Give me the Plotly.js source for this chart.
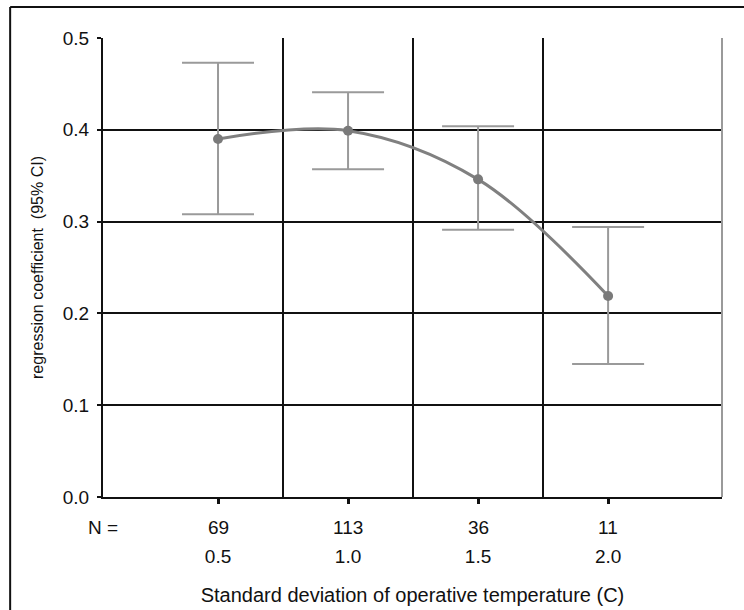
<!DOCTYPE html>
<html>
<head>
<meta charset="utf-8">
<script src="https://cdn.plot.ly/plotly-3.0.1.min.js"></script>
<style>html,body{margin:0;padding:0;background:#fff;}#chart{width:744px;height:610px;}</style>
</head>
<body>
<div id="chart"></div>
<script>
// Data
const sdValues = [0.5, 1.0, 1.5, 2.0];
const sdLabels = ["0.5", "1.0", "1.5", "2.0"];
const nCounts = ["69", "113", "36", "11"];
const coef = [0.390, 0.399, 0.346, 0.219];
const ciUpper = [0.473, 0.441, 0.404, 0.294];
const ciLower = [0.308, 0.357, 0.291, 0.145];
const gridX = [0.75, 1.25, 1.75];

const errPlus = coef.map((v, i) => ciUpper[i] - v);
const errMinus = coef.map((v, i) => v - ciLower[i]);

const FONT = "Liberation Sans, Arial, sans-serif";
const xRange = [0.0577, 2.438];
const TXT = "#111";

const traces = [
  {
    x: sdValues, y: coef, type: "scatter", mode: "lines",
    line: {shape: "spline", smoothing: 1, color: "#808080", width: 3},
    hoverinfo: "skip", showlegend: false
  },
  {
    x: sdValues, y: coef, type: "scatter", mode: "markers",
    marker: {size: 10, color: "#7a7a7a"},
    error_y: {type: "data", symmetric: false, array: errPlus, arrayminus: errMinus,
              color: "#9a9a9a", thickness: 2, width: 36},
    showlegend: false
  },
  {
    x: gridX, y: [null, null, null], xaxis: "x2", type: "scatter", mode: "markers",
    showlegend: false, hoverinfo: "skip"
  }
];

const annotations = nCounts.map((n, i) => ({
  x: sdValues[i], xref: "x", y: -0.0675, yref: "paper",
  text: n, showarrow: false, xanchor: "center", yanchor: "middle",
  font: {family: FONT, size: 19, color: TXT}
}));
annotations.push({
  x: 0, xref: "paper", y: -0.0675, yref: "paper", text: "N =",
  showarrow: false, xanchor: "center", yanchor: "middle",
  font: {family: FONT, size: 19, color: TXT}
});

const layout = {
  width: 744, height: 610,
  margin: {l: 103, r: 22, t: 38, b: 113},
  paper_bgcolor: "#fff", plot_bgcolor: "#fff",
  font: {family: FONT, size: 19, color: TXT},
  xaxis: {
    range: xRange, tickmode: "array", tickvals: sdValues, ticktext: sdLabels,
    showgrid: false, zeroline: false,
    showline: true, linecolor: TXT, linewidth: 2,
    ticks: "outside", ticklen: 5, tickwidth: 3, tickcolor: TXT,
    ticklabelstandoff: 36,
    tickfont: {family: FONT, size: 19, color: TXT},
    title: {text: "Standard deviation of operative temperature (C)",
            font: {family: FONT, size: 20, color: TXT}, standoff: 22},
    fixedrange: true
  },
  xaxis2: {
    range: xRange, overlaying: "x", tickmode: "array", tickvals: gridX,
    showgrid: true, gridcolor: TXT, gridwidth: 2,
    showticklabels: false, ticks: "", zeroline: false, showline: false,
    fixedrange: true
  },
  yaxis: {
    range: [0, 0.5], tickmode: "array", tickvals: [0, 0.1, 0.2, 0.3, 0.4, 0.5],
    ticktext: ["0.0", "0.1", "0.2", "0.3", "0.4", "0.5"],
    showgrid: true, gridcolor: TXT, gridwidth: 2,
    zeroline: false, showline: true, linecolor: TXT, linewidth: 2,
    ticks: "outside", ticklen: 4, tickwidth: 2, tickcolor: TXT,
    ticklabelstandoff: 4,
    tickfont: {family: FONT, size: 19, color: TXT},
    title: {text: "regression coefficient  (95% CI)",
            font: {family: FONT, size: 16, color: TXT}, standoff: 15},
    fixedrange: true
  },
  shapes: [
    {type: "line", xref: "paper", yref: "paper", x0: 1, x1: 1, y0: 0, y1: 1,
     line: {color: "#9a9a9a", width: 2}},
    {type: "line", xref: "paper", yref: "paper", x0: -0.150, x1: -0.150, y0: 1.0675, y1: -0.3,
     line: {color: TXT, width: 2}},
    {type: "line", xref: "paper", yref: "paper", x0: -0.150, x1: 1.2, y0: 1.0675, y1: 1.0675,
     line: {color: TXT, width: 2}}
  ],
  annotations: annotations
};

Plotly.newPlot("chart", traces, layout, {displayModeBar: false, staticPlot: true});
</script>
</body>
</html>
